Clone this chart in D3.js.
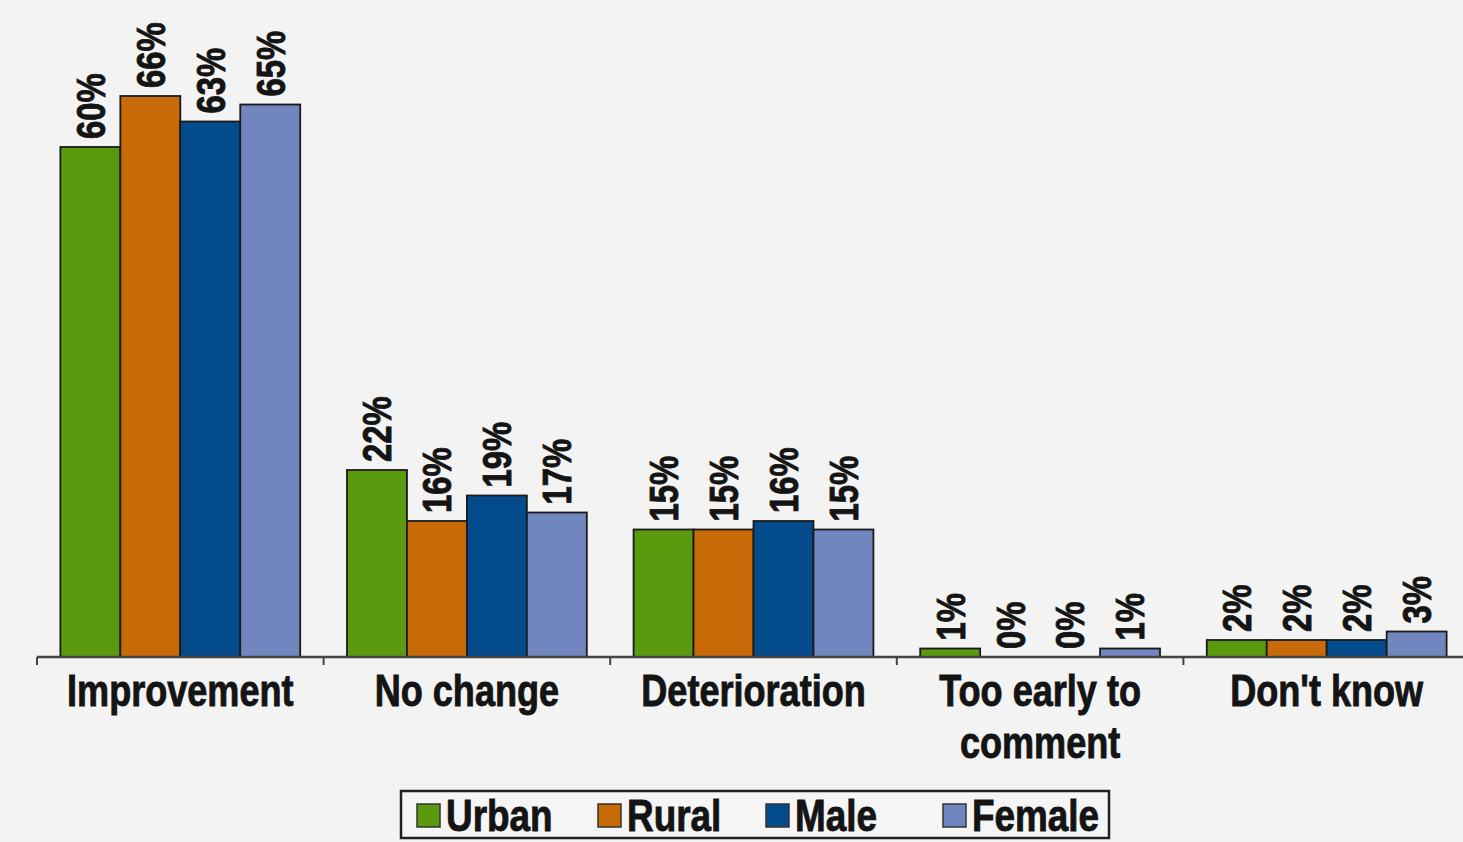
<!DOCTYPE html>
<html>
<head>
<meta charset="utf-8">
<script src="https://cdn.jsdelivr.net/npm/d3@7"></script>
<style>
  html, body { margin: 0; padding: 0; background: #f3f3f3; }
  svg { display: block; }
  text { font-family: "Liberation Sans", Arial, Helvetica, sans-serif; font-weight: bold; fill: #141414; stroke: #141414; stroke-width: 0.9px; paint-order: stroke; }
</style>
</head>
<body>
<svg id="chart" width="1463" height="842"></svg>
<script>
const categories = ["Improvement", "No change", "Deterioration", "Too early to\ncomment", "Don't know"];
const series = ["Urban", "Rural", "Male", "Female"];
const urban  = [60, 22, 15, 1, 2];
const rural  = [66, 16, 15, 0, 2];
const male   = [63, 19, 16, 0, 2];
const female = [65, 17, 15, 1, 3];
const colors = ["#5b9a0e", "#c96a08", "#044b8c", "#7185bf"];

const values = [urban, rural, male, female];

const W = 1463, H = 842;
const NARROW = 0.82;
const svg = d3.select("#chart");
svg.append("rect").attr("width", W).attr("height", H).attr("fill", "#f3f3f3");

const x0 = d3.scaleBand().domain(categories).range([37, 1470]).padding(0);
const x1 = d3.scaleBand().domain(series).range([0, x0.bandwidth()]).paddingInner(0).paddingOuter(0.39);
const y = d3.scaleLinear().domain([0, 70]).range([657, 62]);

const groups = svg.append("g").selectAll("g")
  .data(categories)
  .join("g")
  .attr("transform", d => `translate(${x0(d)},0)`);

groups.each(function(cat, ci) {
  const g = d3.select(this);
  series.forEach((s, si) => {
    const v = values[si][ci];
    if (v > 0) {
      g.append("rect")
        .attr("x", x1(s))
        .attr("y", y(v))
        .attr("width", x1.bandwidth())
        .attr("height", y(0) - y(v))
        .attr("fill", colors[si])
        .attr("stroke", "#1a1a1a")
        .attr("stroke-width", 1.8);
    }
    const cx = x1(s) + x1.bandwidth() / 2;
    const ty = y(v) - 8;
    g.append("text")
      .attr("transform", `translate(${cx},${ty}) rotate(-90) scale(${NARROW},1)`)
      .attr("dy", "0.36em")
      .attr("text-anchor", "start")
      .style("font-size", "40px")
      .text(v + "%");
  });
});

// axis
const axis = svg.append("g").attr("transform", `translate(0,${y(0)})`);
axis.append("line").attr("x1", 37).attr("x2", W).attr("y1", 0).attr("y2", 0)
  .attr("stroke", "#444").attr("stroke-width", 2.5);
const tickXs = categories.map(c => x0(c));
axis.selectAll("line.tick").data(tickXs).join("line")
  .attr("class", "tick")
  .attr("x1", d => d).attr("x2", d => d).attr("y1", 0).attr("y2", 8)
  .attr("stroke", "#444").attr("stroke-width", 2);

// category labels
svg.append("g").selectAll("g")
  .data(categories)
  .join("g")
  .attr("transform", d => `translate(${x0(d) + x0.bandwidth() / 2},706) scale(${NARROW},1)`)
  .each(function(d) {
    const t = d3.select(this).append("text")
      .attr("text-anchor", "middle")
      .style("font-size", "44px");
    d.split("\n").forEach((l, i) => {
      t.append("tspan").attr("x", 0).attr("y", i * 52).text(l);
    });
  });

// legend
const legendX = [417, 598, 766, 943];
const leg = svg.append("g");
leg.append("rect").attr("x", 401).attr("y", 791).attr("width", 708).attr("height", 47)
  .attr("fill", "#f5f5f5").attr("stroke", "#222").attr("stroke-width", 2.5);
series.forEach((s, i) => {
  const lx = legendX[i];
  leg.append("rect").attr("x", lx).attr("y", 804).attr("width", 23).attr("height", 23)
    .attr("fill", colors[i]).attr("stroke", "#333").attr("stroke-width", 1.5);
  leg.append("text")
    .attr("transform", `translate(${lx + 29},831) scale(${NARROW},1)`)
    .style("font-size", "45px").text(s);
});
</script>
</body>
</html>
